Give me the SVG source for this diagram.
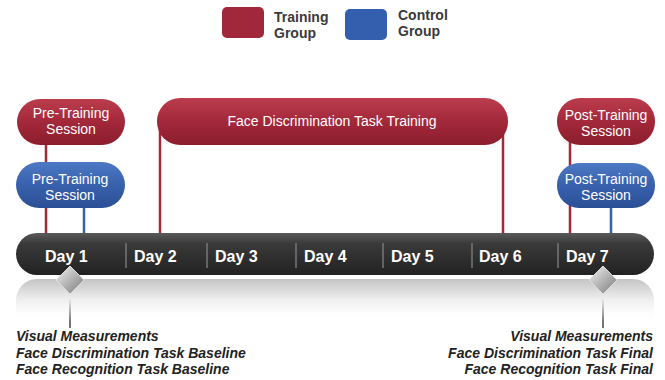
<svg xmlns="http://www.w3.org/2000/svg" width="665" height="380" viewBox="0 0 665 380">
<defs>
<linearGradient id="gRed" x1="0" y1="0" x2="0" y2="1">
<stop offset="0" stop-color="#bb3d4d"/><stop offset="0.5" stop-color="#a2283a"/><stop offset="1" stop-color="#8c1d2c"/>
</linearGradient>
<linearGradient id="gBlue" x1="0" y1="0" x2="0" y2="1">
<stop offset="0" stop-color="#4c78c4"/><stop offset="0.5" stop-color="#3861ad"/><stop offset="1" stop-color="#2b4f95"/>
</linearGradient>
<linearGradient id="gBar" x1="0" y1="0" x2="0" y2="1">
<stop offset="0" stop-color="#5a5a5a"/><stop offset="0.25" stop-color="#3a3a3a"/><stop offset="1" stop-color="#222"/>
</linearGradient>
<linearGradient id="gShadow" x1="0" y1="0" x2="0" y2="1">
<stop offset="0" stop-color="#c4c4c4"/><stop offset="0.45" stop-color="#ececec"/><stop offset="1" stop-color="#fff" stop-opacity="0"/>
</linearGradient>
<linearGradient id="gDia" x1="0" y1="0" x2="1" y2="1">
<stop offset="0" stop-color="#f2f2f2"/><stop offset="0.5" stop-color="#b5b5b5"/><stop offset="1" stop-color="#7a7a7a"/>
</linearGradient>
<style>
.red{fill:url(#gRed);}
.blue{fill:url(#gBlue);}
.nt{font-family:"Liberation Sans",Arial,sans-serif;font-size:14px;fill:#fff;text-anchor:middle;}
.lg{font-family:"Liberation Sans",Arial,sans-serif;font-size:14px;font-weight:bold;fill:#3a3a3a;}
.day{font-family:"Liberation Sans",Arial,sans-serif;font-size:16px;font-weight:bold;fill:#fff;}
.note{font-family:"Liberation Sans",Arial,sans-serif;font-size:14px;font-weight:bold;font-style:italic;fill:#222;}
.rl{stroke:#a2283a;stroke-width:2.5;}
.bl{stroke:#3861ad;stroke-width:2.5;}
.sep{stroke:#777;stroke-width:1.5;}
.pin{stroke:#444;stroke-width:1.5;}
.dia{fill:url(#gDia);stroke:#ddd;stroke-width:1;}
</style>
</defs>
<rect width="665" height="380" fill="#fff"/>

<g id="legend">
<rect x="222" y="7" width="42" height="31" rx="5" fill="#a1273a"/>
<text class="lg" x="274" y="22">Training</text>
<text class="lg" x="274" y="38">Group</text>
<rect x="345" y="9" width="42" height="31" rx="5" fill="#335fae"/>
<text class="lg" x="398" y="20">Control</text>
<text class="lg" x="398" y="36">Group</text>
</g>

<g id="connectors">
<line class="rl" x1="46" y1="140" x2="46" y2="236"/>
<line class="bl" x1="84" y1="205" x2="84" y2="236"/>
<line class="rl" x1="160" y1="125" x2="160" y2="236"/>
<line class="rl" x1="503" y1="125" x2="503" y2="236"/>
<line class="rl" x1="570" y1="140" x2="570" y2="236"/>
<line class="bl" x1="611" y1="205" x2="611" y2="236"/>
<line class="pin" x1="70" y1="290" x2="70" y2="328"/>
<line class="pin" x1="603" y1="290" x2="603" y2="328"/>
</g>

<g id="timeline">
<path d="M37 279 H633 a21 21 0 0 1 21 21 V322 H16 V300 a21 21 0 0 1 21 -21 Z" fill="url(#gShadow)"/>
<rect x="16" y="233" width="638" height="42" rx="21" fill="url(#gBar)"/>
<line class="sep" x1="126" y1="243" x2="126" y2="268"/>
<line class="sep" x1="207" y1="243" x2="207" y2="268"/>
<line class="sep" x1="296" y1="243" x2="296" y2="268"/>
<line class="sep" x1="383" y1="243" x2="383" y2="268"/>
<line class="sep" x1="472" y1="243" x2="472" y2="268"/>
<line class="sep" x1="558" y1="243" x2="558" y2="268"/>
<text class="day" x="45" y="262">Day 1</text>
<text class="day" x="134" y="262">Day 2</text>
<text class="day" x="215" y="262">Day 3</text>
<text class="day" x="304" y="262">Day 4</text>
<text class="day" x="391" y="262">Day 5</text>
<text class="day" x="479" y="262">Day 6</text>
<text class="day" x="566" y="262">Day 7</text>
</g>

<g id="pre-training-red">
<rect class="red" x="17" y="99" width="108" height="46" rx="23"/>
<text class="nt" x="71" y="118">Pre-Training</text>
<text class="nt" x="71" y="134">Session</text>
</g>
<g id="pre-training-blue">
<rect class="blue" x="16" y="162" width="109" height="46" rx="23"/>
<text class="nt" x="70" y="184">Pre-Training</text>
<text class="nt" x="70" y="200">Session</text>
</g>
<g id="face-training">
<rect class="red" x="157" y="98" width="351" height="47" rx="23"/>
<text class="nt" x="332" y="126">Face Discrimination Task Training</text>
</g>
<g id="post-training-red">
<rect class="red" x="557" y="98" width="98" height="47" rx="23"/>
<text class="nt" x="606" y="120">Post-Training</text>
<text class="nt" x="606" y="136">Session</text>
</g>
<g id="post-training-blue">
<rect class="blue" x="557" y="163" width="98" height="45" rx="22"/>
<text class="nt" x="606" y="184">Post-Training</text>
<text class="nt" x="606" y="200">Session</text>
</g>

<g id="marker-day1">
<path class="dia" d="M70 266 L84 280 L70 294 L56 280 Z"/>
<text class="note" x="16" y="341">Visual Measurements</text>
<text class="note" x="16" y="358">Face Discrimination Task Baseline</text>
<text class="note" x="16" y="374">Face Recognition Task Baseline</text>
</g>
<g id="marker-day7">
<path class="dia" d="M603 266 L617 280 L603 294 L589 280 Z"/>
<text class="note" x="653" y="341" text-anchor="end">Visual Measurements</text>
<text class="note" x="653" y="358" text-anchor="end">Face Discrimination Task Final</text>
<text class="note" x="653" y="374" text-anchor="end">Face Recognition Task Final</text>
</g>
</svg>
